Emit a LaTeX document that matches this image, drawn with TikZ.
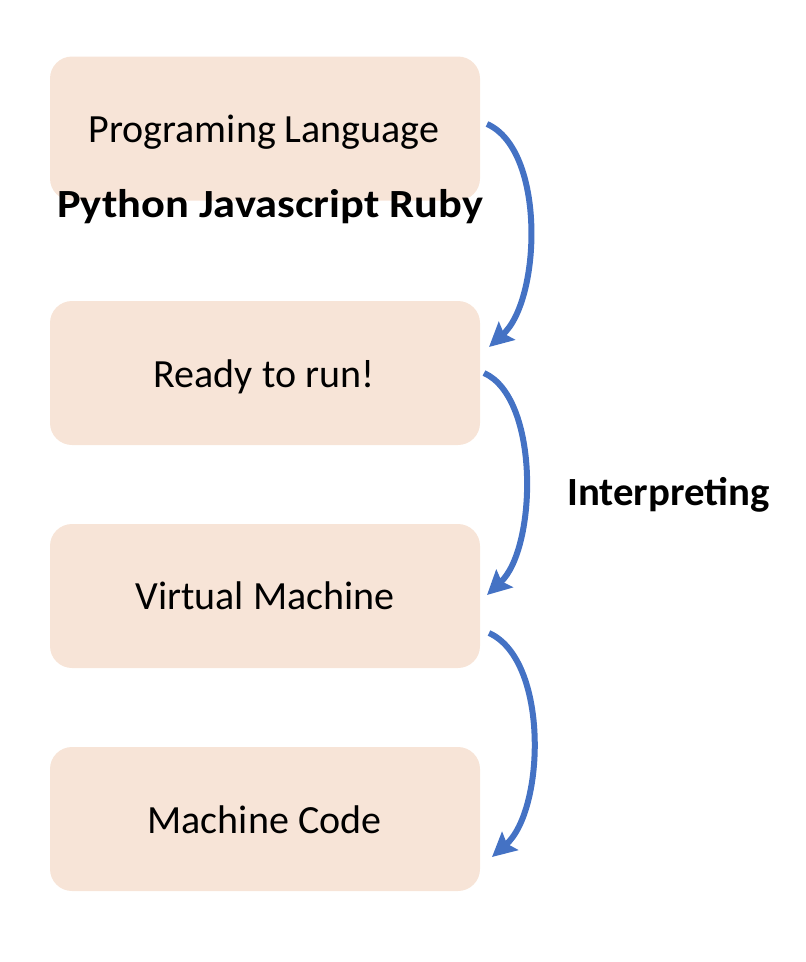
\documentclass[tikz,border=0pt]{standalone}
\usepackage{fontspec}
\usepackage{graphicx}
\setmainfont{Carlito}
\usetikzlibrary{arrows.meta,calc}
\definecolor{peach}{HTML}{F7E4D7}
\definecolor{officeblue}{HTML}{4472C4}
\tikzset{
  box/.style={rounded corners=22pt, fill=peach, minimum width=430pt, minimum height=144pt, inner sep=0pt},
  lbl/.style={anchor=base, inner sep=0pt, font=\fontsize{40}{48}\selectfont},
  blbl/.style={anchor=base, inner sep=0pt, font=\fontsize{40}{48}\selectfont\bfseries},
  flow/.style={draw=officeblue, line width=6pt, -{Stealth[length=24pt,width=24pt,inset=4pt]}}
}
\begin{document}
\begin{tikzpicture}[x=1pt,y=-1pt]
\useasboundingbox (0,0) rectangle (806,962);
\node[box] (b1) at (265,128.5) {};
\node[box] (b2) at (265,373) {};
\node[box] (b3) at (265,596) {};
\node[box] (b4) at (265,819) {};
\node[lbl] (t1) at (264,142) {Programing Language};
\node[blbl] (langs) at (270,217) {\scalebox{1.11}[1]{Python Javascript Ruby}};
\node[lbl] (t2) at (264,387) {Ready to run!};
\node[lbl] (t3) at (265,609) {Virtual Machine};
\node[lbl] (t4) at (264.5,833) {Machine Code};
\node[blbl] (interp) at (668.5,505) {\scalebox{1.02}[1]{Interpreting}};
\coordinate (s1) at (487,124);
\coordinate (e1) at (489,347);
\coordinate (s2) at (484,373);
\coordinate (e2) at (487,595);
\coordinate (s3) at (489,633);
\coordinate (e3) at (492,857);
\draw[flow] (s1) .. controls (546,150) and (541,300) .. (e1);
\draw[flow] (s2) .. controls (540,398) and (537,548) .. (e2);
\draw[flow] (s3) .. controls (549,660) and (545,810) .. (e3);
\end{tikzpicture}
\end{document}
